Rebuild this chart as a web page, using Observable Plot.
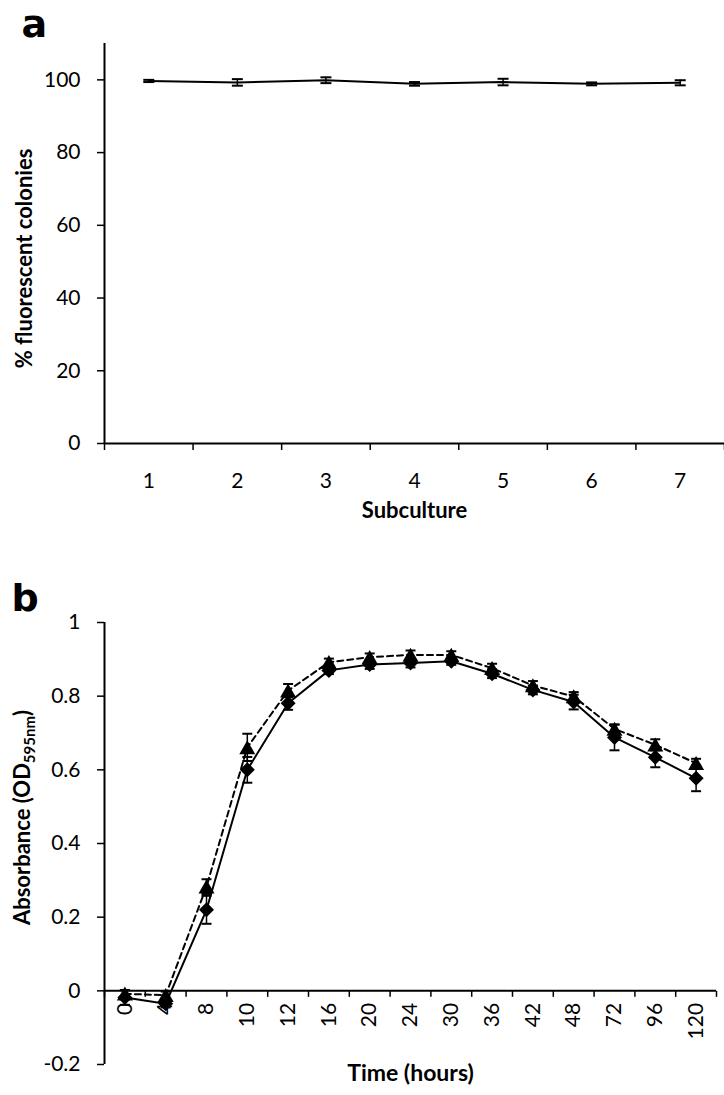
<!DOCTYPE html>
<html><head><meta charset="utf-8">
<script src="https://cdn.jsdelivr.net/npm/d3@7"></script>
<script src="https://cdn.jsdelivr.net/npm/@observablehq/plot@0.6"></script>
<style>
body{margin:0;background:#fff;}
#wrap{position:relative;width:724px;height:1095px;}
#wrap svg{position:absolute;left:0;}
</style></head><body><div id="wrap"></div>
<script>
// ---- Panel a data ----
const subcultures = [1, 2, 3, 4, 5, 6, 7];
const fluorescentPct = [99.7, 99.3, 99.9, 98.9, 99.4, 98.9, 99.2];
const fluorescentErr = [0.3, 0.9, 0.8, 0.5, 0.9, 0.4, 0.7];
const yTicksA = [0, 20, 40, 60, 80, 100];

// ---- Panel b data ----
const timeLabels = ["0", "4", "8", "10", "12", "16", "20", "24", "30", "36", "42", "48", "72", "96", "120"];
const absDiamond = [-0.018, -0.035, 0.22, 0.60, 0.781, 0.870, 0.886, 0.890, 0.895, 0.861, 0.817, 0.784, 0.688, 0.634, 0.577];
const absDiamondErr = [0.02, 0.01, 0.038, 0.035, 0.018, 0.01, 0.012, 0.012, 0.01, 0.012, 0.012, 0.02, 0.035, 0.027, 0.035];
const absTriangle = [-0.008, -0.012, 0.283, 0.661, 0.815, 0.892, 0.906, 0.912, 0.912, 0.876, 0.829, 0.799, 0.711, 0.668, 0.618];
const absTriangleErr = [0.01, 0.01, 0.02, 0.037, 0.018, 0.01, 0.01, 0.012, 0.01, 0.012, 0.012, 0.012, 0.012, 0.015, 0.012];
const yTicksB = [-0.2, 0, 0.2, 0.4, 0.6, 0.8, 1];

const FONT = "Lato, 'Open Sans', sans-serif";
const PANEL_FONT = "'DejaVu Sans', sans-serif";

// custom symbols
const rad = s => Math.sqrt(s / Math.PI);
const capSym = {draw(c, s) { const r = rad(s); c.moveTo(-r, 0); c.lineTo(r, 0); }};
const vTickSym = {draw(c, s) { const r = rad(s); c.moveTo(0, 0); c.lineTo(0, r); }};
const diamondSym = {draw(c, s) { const r = rad(s); c.moveTo(0, -r); c.lineTo(r, 0); c.lineTo(0, r); c.lineTo(-r, 0); c.closePath(); }};
const triSym = {draw(c, s) { const r = rad(s); c.moveTo(0, -0.9 * r); c.lineTo(r, 0.85 * r); c.lineTo(-r, 0.85 * r); c.closePath(); }};

const wrap = document.getElementById("wrap");

// ---------- Panel a ----------
const dataA = subcultures.map((s, i) => ({s, v: fluorescentPct[i], e: fluorescentErr[i]}));
const boundsA = d3.range(subcultures.length + 1).map(i => subcultures[0] - 0.5 + i);

const plotA = Plot.plot({
  width: 724, height: 560,
  marginTop: 43, marginBottom: 117, marginLeft: 104, marginRight: 0,
  style: {fontFamily: FONT, fontSize: "21px", color: "black", background: "white"},
  x: {domain: [boundsA[0], boundsA[boundsA.length - 1]], axis: null},
  y: {domain: [0, 110], axis: null},
  marks: [
    Plot.axisY({ticks: yTicksA, tickSize: 7, tickPadding: 17, strokeWidth: 1.5, fontSize: 21, tickFormat: d => String(d), label: null}),
    Plot.axisX({ticks: boundsA, tickSize: 7, strokeWidth: 1.5, tickFormat: () => "", label: null}),
    Plot.axisX({ticks: subcultures, tickSize: 0, tickPadding: 30, fontSize: 21, tickFormat: d => String(d), label: null}),
    Plot.ruleX([boundsA[0]], {strokeWidth: 2}),
    Plot.ruleY([0], {strokeWidth: 2}),
    Plot.ruleX(dataA, {x: "s", y1: d => d.v - d.e, y2: d => d.v + d.e, strokeWidth: 1.5}),
    Plot.dot(dataA, {x: "s", y: d => d.v - d.e, symbol: capSym, r: 5.5, stroke: "black", strokeWidth: 2}),
    Plot.dot(dataA, {x: "s", y: d => d.v + d.e, symbol: capSym, r: 5.5, stroke: "black", strokeWidth: 2}),
    Plot.line(dataA, {x: "s", y: "v", stroke: "black", strokeWidth: 2}),
    Plot.text(["Subculture"], {frameAnchor: "bottom", dy: 74, fontSize: 22, fontWeight: "bold"}),
    Plot.text(["% fluorescent colonies"], {frameAnchor: "left", textAnchor: "middle", dx: -80, dy: 15, rotate: -90, fontSize: 22, fontWeight: "bold"}),
    Plot.text(["a"], {frameAnchor: "top-left", dx: -83, dy: -7, textAnchor: "start", lineAnchor: "bottom", fontSize: 38, fontWeight: "bold", fontFamily: PANEL_FONT})
  ]
});
plotA.style.top = "0px";
wrap.appendChild(plotA);

// ---------- Panel b ----------
const dataB = timeLabels.map((t, i) => ({i, t, d: absDiamond[i], de: absDiamondErr[i], tr: absTriangle[i], te: absTriangleErr[i]}));
const boundsB = d3.range(timeLabels.length + 1).map(i => i - 0.5);

const plotB = Plot.plot({
  width: 724, height: 535,
  marginTop: 62, marginBottom: 31, marginLeft: 104, marginRight: 8,
  style: {fontFamily: FONT, fontSize: "21px", color: "black", background: "white"},
  x: {domain: [boundsB[0], boundsB[boundsB.length - 1]], axis: null},
  y: {domain: [-0.2, 1], axis: null},
  marks: [
    Plot.axisY({ticks: yTicksB, tickSize: 7, tickPadding: 17, strokeWidth: 1.5, fontSize: 21, tickFormat: d => String(d), label: null}),
    Plot.ruleX([boundsB[0]], {strokeWidth: 2}),
    Plot.ruleY([0], {strokeWidth: 2}),
    Plot.dot(boundsB, {x: d => d, y: () => 0, symbol: vTickSym, r: 6, stroke: "black", strokeWidth: 1.5}),
    Plot.text(dataB, {x: "i", y: () => 0, text: "t", rotate: -90, textAnchor: "end", lineAnchor: "middle", dy: 12, fontSize: 21}),
    // triangle series (dashed)
    Plot.ruleX(dataB, {x: "i", y1: d => d.tr - d.te, y2: d => d.tr + d.te, strokeWidth: 1.5}),
    Plot.dot(dataB, {x: "i", y: d => d.tr - d.te, symbol: capSym, r: 5, stroke: "black", strokeWidth: 2}),
    Plot.dot(dataB, {x: "i", y: d => d.tr + d.te, symbol: capSym, r: 5, stroke: "black", strokeWidth: 2}),
    Plot.line(dataB, {x: "i", y: "tr", stroke: "black", strokeWidth: 2, strokeDasharray: "6,4"}),
    Plot.dot(dataB, {x: "i", y: "tr", symbol: triSym, r: 8, fill: "black"}),
    // diamond series (solid)
    Plot.ruleX(dataB, {x: "i", y1: d => d.d - d.de, y2: d => d.d + d.de, strokeWidth: 1.5}),
    Plot.dot(dataB, {x: "i", y: d => d.d - d.de, symbol: capSym, r: 5, stroke: "black", strokeWidth: 2}),
    Plot.dot(dataB, {x: "i", y: d => d.d + d.de, symbol: capSym, r: 5, stroke: "black", strokeWidth: 2}),
    Plot.line(dataB, {x: "i", y: "d", stroke: "black", strokeWidth: 2}),
    Plot.dot(dataB, {x: "i", y: "d", symbol: diamondSym, r: 7.5, fill: "black"}),
    Plot.text(["Time (hours)"], {frameAnchor: "bottom", dy: 16, fontSize: 23, fontWeight: "bold"}),
    Plot.text(["Absorbance (OD595nm)"], {frameAnchor: "left", textAnchor: "middle", dx: -82, dy: -26, rotate: -90, fontSize: 22, fontWeight: "bold"}),
    Plot.text(["b"], {frameAnchor: "top-left", dx: -93, dy: -12, textAnchor: "start", lineAnchor: "bottom", fontSize: 38, fontWeight: "bold", fontFamily: PANEL_FONT})
  ]
});
plotB.style.top = "560px";
wrap.appendChild(plotB);

// subscript in the y label of panel b
d3.select(plotB).selectAll("text").each(function() {
  if (this.textContent === "Absorbance (OD595nm)") {
    const t = d3.select(this);
    t.text(null);
    t.append("tspan").text("Absorbance (OD");
    t.append("tspan").attr("font-size", 15).attr("dy", 5).text("595nm");
    t.append("tspan").attr("dy", -5).text(")");
  }
});
</script></body></html>
